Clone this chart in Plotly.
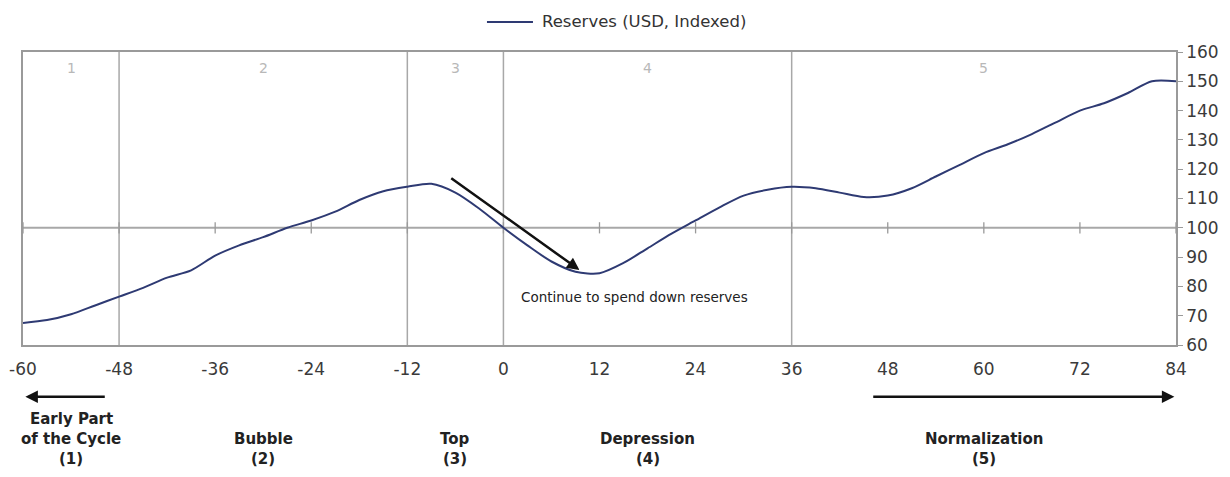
import plotly.graph_objects as go

# ---- data ----
months = list(range(-60, 85, 3))
reserves = [67.5, 68.5, 70.5, 73.5, 76.5, 79.5, 83.0, 85.5, 90.5, 94.0,
            96.8, 100.0, 102.5, 105.5, 109.5, 112.5, 114.0, 115.0, 112.0, 106.5,
            100.0, 94.0, 88.5, 85.0, 84.5, 88.0, 93.0, 98.0, 102.5, 107.0,
            111.0, 113.0, 114.0, 113.5, 112.0, 110.5, 111.0, 113.5, 117.5, 121.5,
            125.5, 128.5, 132.0, 136.0, 140.0, 142.5, 146.0, 150.0, 150.0]

x_ticks = [-60, -48, -36, -24, -12, 0, 12, 24, 36, 48, 60, 72, 84]
y_ticks = list(range(60, 161, 10))
phase_bounds = [-48, -12, 0, 36]
phase_numbers = ["1", "2", "3", "4", "5"]
phase_centers = [-54, -30, -6, 18, 60]
phase_labels = [["Early Part", "of the Cycle", "(1)"], ["Bubble", "(2)"], ["Top", "(3)"],
                ["Depression", "(4)"], ["Normalization", "(5)"]]
baseline = 100
series_name = "Reserves (USD, Indexed)"
note_text = "Continue to spend down reserves"

FONT = "DejaVu Sans"
LINE_COLOR = "#2e3a73"
fig = go.Figure()

# baseline tick marks
fig.add_trace(go.Scatter(
    x=x_ticks, y=[baseline] * len(x_ticks), mode="markers",
    marker=dict(symbol="line-ns", size=8, line=dict(color="#9a9a9a", width=1.3)),
    showlegend=False, hoverinfo="skip"))

fig.add_trace(go.Scatter(
    x=months, y=reserves, mode="lines", name=series_name, showlegend=False,
    line=dict(color=LINE_COLOR, width=2, shape="spline", smoothing=0.8)))

# manual legend (keeps the plot area fixed)
fig.add_shape(type="line", xref="paper", yref="paper", x0=0.4024, x1=0.4423,
              y0=1.1024, y1=1.1024, line=dict(color=LINE_COLOR, width=2))
fig.add_annotation(x=0.4484, y=1.1024, xref="paper", yref="paper", text=series_name,
                   showarrow=False, xanchor="left", yanchor="middle",
                   font=dict(family=FONT, size=16.5, color="#333333"))

# baseline at 100
fig.add_shape(type="line", xref="paper", x0=0, x1=1, yref="y", y0=baseline, y1=baseline,
              line=dict(color="#a8a8a8", width=2), layer="below")
# phase boundaries
for b in phase_bounds:
    fig.add_shape(type="line", xref="x", x0=b, x1=b, yref="paper", y0=0, y1=1,
                  line=dict(color="#a8a8a8", width=1.5), layer="below")

# phase numbers at top
for c, n in zip(phase_centers, phase_numbers):
    fig.add_annotation(x=c, y=0.945, xref="x", yref="paper", text=n, showarrow=False,
                       yanchor="middle",
                       font=dict(family=FONT, size=14, color="#b8b8b8"))

# bottom phase labels (one annotation per line)
line_y = [-0.253, -0.321, -0.389]
for c, lines in zip(phase_centers, phase_labels):
    ys = line_y[-len(lines):]
    for t, yy in zip(lines, ys):
        fig.add_annotation(x=c, y=yy, xref="x", yref="paper", text="<b>" + t + "</b>",
                           showarrow=False, yanchor="middle",
                           font=dict(family=FONT, size=15, color="#222222"))

# bottom arrows
fig.add_annotation(x=-59.7, y=-0.177, ax=-49.6, ay=0, xref="x", yref="paper",
                   axref="x", ayref="pixel", text="", showarrow=True,
                   arrowhead=2, arrowsize=1, arrowwidth=2.5, arrowcolor="#111111")
fig.add_annotation(x=83.8, y=-0.177, ax=46, ay=0, xref="x", yref="paper",
                   axref="x", ayref="pixel", text="", showarrow=True,
                   arrowhead=2, arrowsize=1, arrowwidth=2.5, arrowcolor="#111111")

# spend-down arrow and note
fig.add_annotation(x=9.5, y=85.6, ax=-6.7, ay=117.3, xref="x", yref="y",
                   axref="x", ayref="y", text="", showarrow=True,
                   arrowhead=2, arrowsize=1, arrowwidth=2.5, arrowcolor="#111111")
fig.add_annotation(x=16.4, y=76.4, xref="x", yref="y", text=note_text, showarrow=False,
                   font=dict(family=FONT, size=13.5, color="#222222"))

# page has an 8px body margin: figure is 16px smaller and margins shifted accordingly
fig.update_layout(
    width=1214, height=461,
    margin=dict(l=15, r=46, t=44, b=124),
    paper_bgcolor="white", plot_bgcolor="white",
    font=dict(family=FONT, size=16, color="#3a3a3a"),
    showlegend=False,
    xaxis=dict(range=[-60, 84], tickvals=x_ticks, ticktext=[str(v) for v in x_ticks],
               showgrid=False, zeroline=False, showline=True, mirror=True,
               linecolor="#9a9a9a", linewidth=1.5, automargin=False,
               ticks="outside", ticklen=8, tickcolor="rgba(0,0,0,0)",
               tickfont=dict(family=FONT, size=17, color="#3a3a3a")),
    yaxis=dict(range=[60, 160], tickvals=y_ticks, side="right",
               showgrid=False, zeroline=False, showline=True, mirror=True,
               linecolor="#9a9a9a", linewidth=1.5, automargin=False,
               ticks="outside", ticklen=5, tickcolor="#9a9a9a",
               tickfont=dict(family=FONT, size=17, color="#3a3a3a")),
)

fig.write_html("out.html")
